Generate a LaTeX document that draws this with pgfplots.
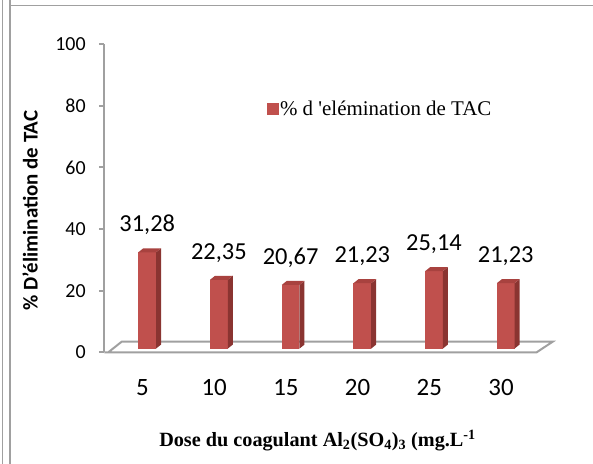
\documentclass[border=0pt]{standalone}
\usepackage{fontspec}
\setmainfont{Carlito}
\newfontfamily\timesfont{Liberation Serif}
\usepackage{pgfplots}
\pgfplotsset{compat=1.18}
\definecolor{barfront}{HTML}{C0504D}
\definecolor{barside}{HTML}{8A3431}
\definecolor{bartop}{HTML}{A8423F}
\definecolor{axisgray}{HTML}{A0A0A0}
\newcommand\fs[1]{\fontsize{#1}{#1}\selectfont}

% 3D column drawn at the data point (x, value); \barval comes from visualization depends on
\newdimen\barh
\pgfdeclareplotmark{bar3d}{%
  \pgfmathsetlength{\barh}{\barval*3.08bp}%
  \pgfsetfillcolor{barfront}%
  \pgfpathrectanglecorners{\pgfpoint{-8.85bp}{3.7bp-\barh}}{\pgfpoint{8.85bp}{3.7bp}}%
  \pgfusepath{fill}%
  \pgfsetfillcolor{barside}%
  \pgfpathmoveto{\pgfpoint{8.85bp}{3.7bp}}%
  \pgfpathlineto{\pgfpoint{13.85bp}{7.7bp}}%
  \pgfpathlineto{\pgfpoint{13.85bp}{7.7bp-\barh}}%
  \pgfpathlineto{\pgfpoint{8.85bp}{3.7bp-\barh}}%
  \pgfpathclose
  \pgfusepath{fill}%
  \pgfsetfillcolor{bartop}%
  \pgfpathmoveto{\pgfpoint{-8.85bp}{3.7bp}}%
  \pgfpathlineto{\pgfpoint{8.85bp}{3.7bp}}%
  \pgfpathlineto{\pgfpoint{13.85bp}{7.7bp}}%
  \pgfpathlineto{\pgfpoint{-3.85bp}{7.7bp}}%
  \pgfpathclose
  \pgfusepath{fill}%
}

\begin{document}
\begin{tikzpicture}
\useasboundingbox (0,0) rectangle (593bp,464bp);
% frame lines of the original figure
\draw[axisgray, line width=1.5bp] (2.7bp,0) -- (2.7bp,464bp);
\draw[axisgray, line width=1.5bp] (10bp,0) -- (10bp,464bp);
\draw[axisgray, line width=1.5bp] (10bp,458.5bp) -- (593bp,458.5bp);

\begin{axis}[
  at={(104.3bp,111.7bp)}, anchor=south west,
  scale only axis, width=448.4bp, height=308bp,
  xmin=0.4017, xmax=6.6555, ymin=0, ymax=100,
  clip=false,
  axis y line=left, axis x line=bottom,
  axis line style={-},
  x axis line style={draw=none},
  y axis line style={axisgray, line width=2bp},
  ytick={0,20,...,100},
  ytick style={axisgray, line width=2bp},
  xtick={0.9345,1.9345,2.9345,3.9345,4.9345,5.9345},
  xticklabels={5,10,15,20,25,30},
  xtick style={draw=none},
  major tick length=5.5bp, tick align=outside,
  /pgf/number format/assume math mode=true,
  yticklabel style={font=\fs{20}, anchor=east, inner sep=0pt, xshift=-13bp},
  xticklabel style={font=\fs{25}, anchor=base, inner sep=0pt, yshift=-37.5bp},
  xlabel={\timesfont\bfseries Dose du coagulant Al\textsubscript{2}(SO\textsubscript{4})\textsubscript{3} (mg.L\textsuperscript{-1}},
  xlabel style={font=\fs{20.3}, at={(axis description cs:0.4755,-0.3065)}, anchor=base},
  ylabel={\bfseries \% D'élimination de TAC},
  ylabel style={font=\fs{21}, at={(axis description cs:-0.1657,0.4604)}, anchor=center},
  legend style={at={(axis description cs:0.3628,0.7916)}, anchor=west,
    draw=none, fill=none, inner sep=0pt, font=\timesfont\fs{21},
    nodes={inner sep=1.5bp}},
  legend cell align=left,
  nodes near coords={\pgfmathprintnumber[use comma, fixed, fixed zerofill, precision=2]{\pgfplotspointmeta}},
  every node near coord/.append style={font=\fs{24.5}, anchor=base, inner sep=0pt, yshift=24bp},
]
% floor of the 3D chart
\draw[axisgray, line width=2bp] (axis cs:0.4017,0) -- (axis cs:6.432,0) -- (axis cs:6.6555,3.45) -- (axis cs:0.6444,3.45) -- (axis cs:0.4575,0);

\addplot[scatter, only marks, mark=bar3d, forget plot,
  visualization depends on={rawy \as \barval}]
  coordinates {(1,31.28) (2,22.35) (3,20.67) (4,21.23) (5,25.14) (6,21.23)};

\addlegendimage{legend image code/.code={\fill[barfront] (0bp,-5.5bp) rectangle (11bp,5.5bp);}}
\addlegendentry{\% d 'elémination de TAC}
\end{axis}
\end{tikzpicture}
\end{document}
